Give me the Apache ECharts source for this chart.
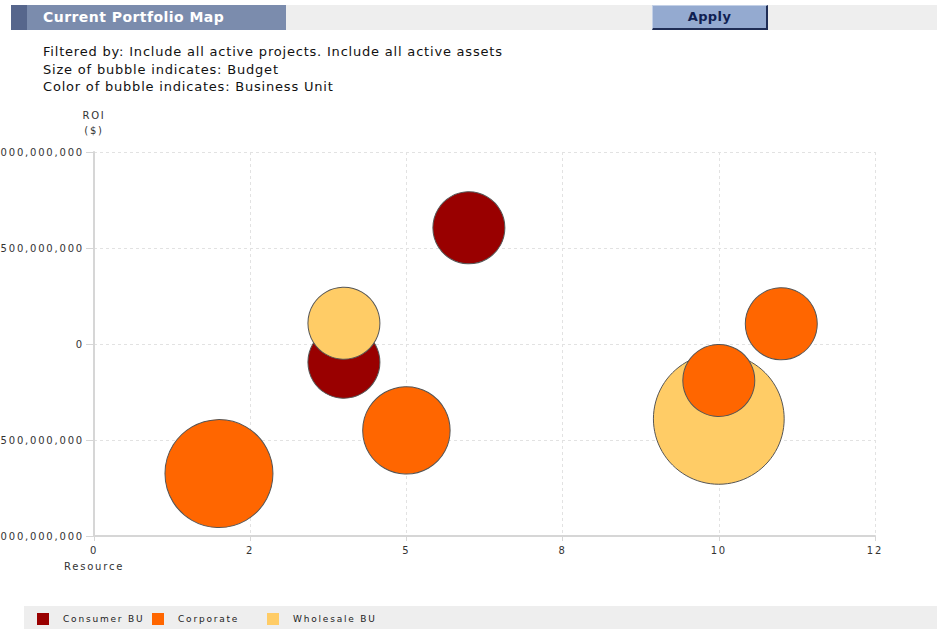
<!DOCTYPE html>
<html>
<head>
<meta charset="utf-8">
<script src="https://cdn.jsdelivr.net/npm/echarts@6/dist/echarts.min.js"></script>
<style>
  html, body { margin: 0; padding: 0; background: #fff; }
  #chart { position: absolute; left: 0; top: 0; width: 937px; height: 629px; }
  #chart text { letter-spacing: 1.8px; }
  .hdr { position: absolute; font-family: "DejaVu Sans", Verdana, sans-serif; z-index: 5; }
  #graybar { left: 286px; top: 5px; width: 651px; height: 25px; background: #eeeeee; }
  #sq { left: 11px; top: 5px; width: 16px; height: 25px; background: #56668c; }
  #titlebar { left: 27px; top: 5px; width: 259px; height: 25px; background: #7b8cad; color: #fff;
              font-weight: bold; font-size: 14px; letter-spacing: 0.45px; line-height: 25px; padding-left: 16px; box-sizing: border-box; white-space: nowrap; }
  #apply { left: 652px; top: 5px; width: 116px; height: 25px; background: #94aad0; box-sizing: border-box;
           border-left: 1px solid #c3d0e6; border-top: 1px solid #c3d0e6; border-right: 2px solid #1f2d55; border-bottom: 2px solid #1f2d55;
           color: #101f52; font-weight: bold; font-size: 13px; letter-spacing: 0.4px; text-align: center; line-height: 22px; }
  #info { left: 43px; top: 43px; font-size: 13px; letter-spacing: 0.8px; line-height: 17.5px; color: #111; white-space: nowrap; }
</style>
</head>
<body>
<div id="chart"></div>
<div class="hdr" id="graybar"></div>
<div class="hdr" id="sq"></div>
<div class="hdr" id="titlebar">Current Portfolio Map</div>
<div class="hdr" id="apply">Apply</div>
<div class="hdr" id="info">Filtered by: Include all active projects. Include all active assets<br>Size of bubble indicates: Budget<br>Color of bubble indicates: Business Unit</div>
<script>
// ---- data ----
const seriesNames = ['Consumer BU', 'Corporate', 'Wholesale BU'];
const seriesColors = ['#990000', '#ff6600', '#ffcc66'];

// Resource (x), ROI $ (y), Budget $M (bubble size)
const consumerX = [6, 4];
const consumerY = [605000000, -95000000];
const consumerBudget = [2.0, 2.0];

const corporateX = [2, 5, 10, 11];
const corporateY = [-675000000, -450000000, -190000000, 105000000];
const corporateBudget = [4.5, 2.95, 2.0, 2.0];

const wholesaleX = [4, 10];
const wholesaleY = [108000000, -390000000];
const wholesaleBudget = [2.0, 6.6];

const xTickLabels = ['0', '2', '5', '8', '10', '12'];
const xMin = 0, xMax = 12.5, xStep = 2.5;
const yMin = -1000000000, yMax = 1000000000, yStep = 500000000;

function pts(xs, ys, bs) { return xs.map((x, i) => [x, ys[i], bs[i]]); }
const seriesData = [
  pts(consumerX, consumerY, consumerBudget),
  pts(corporateX, corporateY, corporateBudget),
  pts(wholesaleX, wholesaleY, wholesaleBudget)
];
// drawing order: Consumer below Wholesale below Corporate
const zOrder = [1, 3, 2];

const chart = echarts.init(document.getElementById('chart'), null, { renderer: 'svg' });
const labelFont = { fontFamily: 'DejaVu Sans', fontSize: 10, color: '#333' };

const legendLefts = [37, 152, 267];
const option = {
  animation: false,
  grid: { left: 94, right: 62, top: 152, bottom: 93 },
  xAxis: {
    type: 'value', min: xMin, max: xMax, interval: xStep,
    name: 'Resource', nameLocation: 'start', nameGap: 0,
    nameTextStyle: Object.assign({}, labelFont, { align: 'center', verticalAlign: 'top', padding: [25, 0, 0, 0] }),
    axisLine: { show: true, onZero: false, lineStyle: { color: '#d6d6d6', width: 2 } },
    axisTick: { show: true, length: 5, lineStyle: { color: '#d6d6d6' } },
    axisLabel: Object.assign({}, labelFont, { margin: 9, formatter: v => xTickLabels[Math.round((v - xMin) / xStep)] }),
    splitLine: { show: true, lineStyle: { color: '#e2e2e2', type: [3, 3] } }
  },
  yAxis: {
    type: 'value', min: yMin, max: yMax, interval: yStep,
    name: 'ROI\n($)', nameLocation: 'end', nameGap: 14,
    nameTextStyle: Object.assign({}, labelFont, { align: 'center', lineHeight: 15 }),
    axisLine: { show: true, onZero: false, lineStyle: { color: '#d6d6d6', width: 2 } },
    axisTick: { show: true, length: 8, lineStyle: { color: '#d6d6d6' } },
    axisLabel: Object.assign({}, labelFont, { margin: 10, formatter: v => v.toLocaleString('en-US') }),
    splitLine: { show: true, lineStyle: { color: '#e2e2e2', type: [3, 3] } }
  },
  legend: seriesNames.map((n, i) => ({
    data: [n], left: legendLefts[i], top: 613, padding: 0,
    icon: 'rect', itemWidth: 12, itemHeight: 12,
    itemStyle: { borderWidth: 0 },
    textStyle: { fontFamily: 'DejaVu Sans', fontSize: 9, color: '#222', padding: [0, 0, 0, 9] }
  })),
  graphic: [{
    type: 'rect', left: 24, top: 606, z: -10,
    shape: { width: 913, height: 23 }, style: { fill: '#eeeeee' }
  }],
  series: seriesNames.map((n, i) => ({
    name: n, type: 'scatter', z: zOrder[i],
    data: seriesData[i],
    symbolSize: d => 50.9 * Math.sqrt(d[2]),
    itemStyle: { color: seriesColors[i], borderColor: '#555', borderWidth: 1, opacity: 1 },
    emphasis: { disabled: true }
  }))
};
chart.setOption(option);
</script>
</body>
</html>
